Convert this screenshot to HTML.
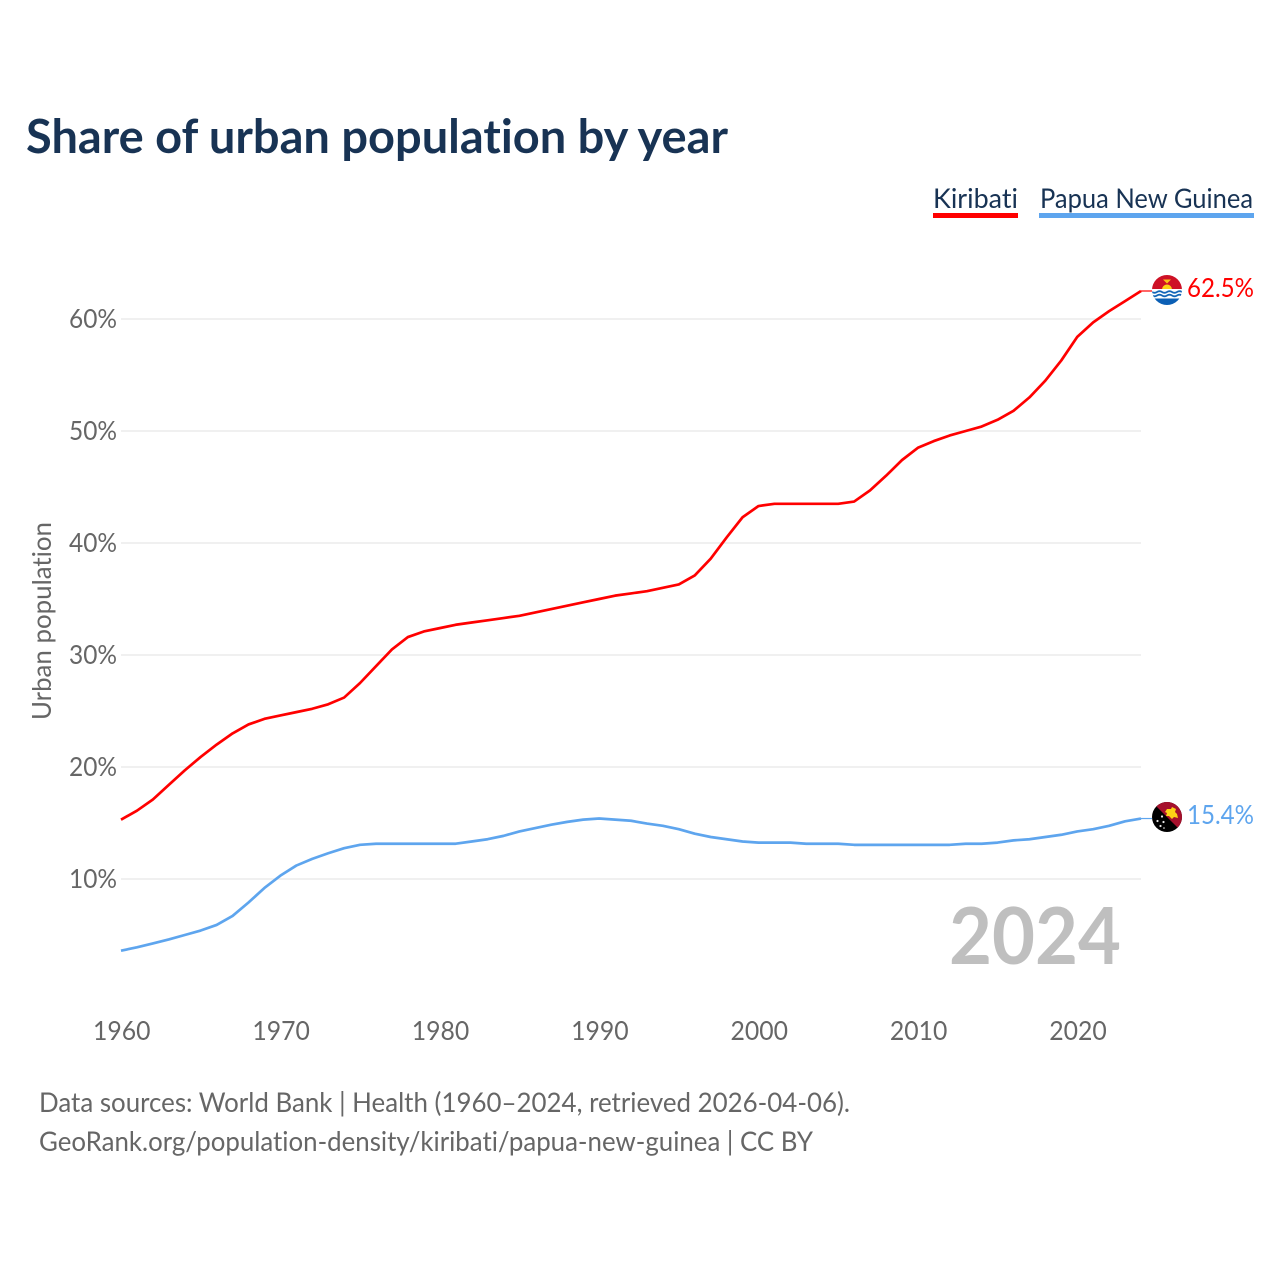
<!DOCTYPE html>
<html lang="en">
<head>
<meta charset="utf-8">
<title>Share of urban population by year</title>
<style>
html,body{margin:0;padding:0;background:#fff;width:1280px;height:1280px;overflow:hidden}
svg{display:block}
text{font-family:"Lato","Carlito","Liberation Sans",sans-serif;font-variant-ligatures:none;font-feature-settings:"liga" 0,"clig" 0}
</style>
</head>
<body>
<svg id="chart" xmlns="http://www.w3.org/2000/svg" width="1280" height="1280" viewBox="0 0 1280 1280">
  <rect width="1280" height="1280" fill="#fff"/>
  <text x="26" y="153" font-size="47" font-weight="700" fill="#183354" textLength="702" lengthAdjust="spacingAndGlyphs">Share of urban population by year</text>

  <g>
    <text x="933" y="208" font-size="27.500" fill="#183354" textLength="85" lengthAdjust="spacingAndGlyphs">Kiribati</text>
    <rect x="933" y="213" width="85" height="5" fill="#ff0000"/>
  </g>
  <g>
    <text x="1040" y="208" font-size="27.500" fill="#183354" textLength="213" lengthAdjust="spacingAndGlyphs">Papua New Guinea</text>
    <rect x="1039" y="213" width="215" height="5" fill="#5ea5ee"/>
  </g>

  <g id="grid"></g>
  <g id="yticks"></g>
  <g id="xticks"></g>
  <text transform="translate(51,621) rotate(-90)" text-anchor="middle" font-size="26.500" fill="#666" textLength="198" lengthAdjust="spacingAndGlyphs">Urban population</text>

  <text x="949" y="964" font-size="79" font-weight="700" fill="#bfbfbf" textLength="172" lengthAdjust="spacingAndGlyphs">2024</text>

  <g id="series"></g>

  <g id="flag-kiribati">
    <clipPath id="clipK"><circle cx="1167" cy="290" r="15"/></clipPath>
    <g clip-path="url(#clipK)">
      <rect x="1152" y="275" width="30" height="15" fill="#ce1126"/>
      <path d="M1162 289.500a5 5 0 0 1 10 0z" fill="#fcd116"/>
      <path d="M1163 279.500h8l-2 2-2 2-2-2z" fill="#fcc116"/>
      <rect x="1152" y="289" width="30" height="17" fill="#fff"/>
      <rect x="1152" y="298.500" width="30" height="7" fill="#0b5fb5"/>
      <path d="M1152 292q2.500 1.600 5 0t5 0 5 0 5 0 5 0 5 0M1152 295.500q2.500 1.600 5 0t5 0 5 0 5 0 5 0 5 0" fill="none" stroke="#1466b8" stroke-width="1.800"/>
    </g>
  </g>
  <g id="flag-png">
    <clipPath id="clipP"><circle cx="1167" cy="817" r="15"/></clipPath>
    <g clip-path="url(#clipP)">
      <rect x="1152" y="802" width="30" height="30" fill="#000"/>
      <path d="M1152 802h30v30z" fill="#a5102c"/>
      <path d="M1167 809l4 0 1-2 4 2-1 3 2 2 1 4-4-1-2 2-3-3-3 0 1-3-2-1z" fill="#fcd116"/>
      <g fill="#e8e8e8">
        <circle cx="1162" cy="816.500" r="1.100"/>
        <circle cx="1157.500" cy="821" r="1.100"/>
        <circle cx="1163.500" cy="822" r="1.100"/>
        <circle cx="1160.500" cy="826" r="1.100"/>
        <circle cx="1164" cy="828" r="0.800"/>
      </g>
    </g>
  </g>

  <text id="end-k" x="1187" y="297" font-size="26.500" fill="#ff0000" textLength="67" lengthAdjust="spacingAndGlyphs">62.5%</text>
  <text id="end-p" x="1187" y="824" font-size="26.500" fill="#5ea5ee" textLength="67" lengthAdjust="spacingAndGlyphs">15.4%</text>

  <text x="39" y="1112" font-size="27.500" fill="#666" textLength="811" lengthAdjust="spacingAndGlyphs">Data sources: World Bank | Health (1960–2024, retrieved 2026-04-06).</text>
  <text x="39" y="1151" font-size="27.500" fill="#666" textLength="774" lengthAdjust="spacingAndGlyphs">GeoRank.org/population-density/kiribati/papua-new-guinea | CC BY</text>
</svg>
<script>
const startYear = 1960;
const kiribati = [15.3,16.1,17.1,18.4,19.7,20.9,22.0,23.0,23.8,24.3,24.6,24.9,25.2,25.6,26.2,27.5,29.0,30.5,31.6,32.1,32.4,32.7,32.9,33.1,33.3,33.5,33.8,34.1,34.4,34.7,35.0,35.3,35.5,35.7,36.0,36.3,37.1,38.6,40.5,42.3,43.3,43.5,43.5,43.5,43.5,43.5,43.7,44.7,46.0,47.4,48.5,49.1,49.6,50.0,50.4,51.0,51.8,53.0,54.5,56.3,58.4,59.7,60.7,61.6,62.5];
const papuaNewGuinea = [3.6,3.9,4.25,4.6,5.0,5.4,5.9,6.7,7.9,9.2,10.3,11.2,11.8,12.3,12.75,13.05,13.15,13.15,13.15,13.15,13.15,13.15,13.35,13.55,13.85,14.25,14.55,14.85,15.1,15.3,15.4,15.3,15.2,14.95,14.75,14.45,14.05,13.75,13.55,13.35,13.25,13.25,13.25,13.15,13.15,13.15,13.05,13.05,13.05,13.05,13.05,13.05,13.05,13.15,13.15,13.25,13.45,13.55,13.75,13.95,14.25,14.45,14.75,15.15,15.4];
const xTickYears = [1960,1970,1980,1990,2000,2010,2020];
const yTickValues = [10,20,30,40,50,60];

const NS = 'http://www.w3.org/2000/svg';
const xScale = function (year) { return 121 + (year - 1960) * (1020 / 64); };
const yScale = function (value) { return 879 - (value - 10) * (560 / 50); };

const gridGroup = document.getElementById('grid');
const yGroup = document.getElementById('yticks');
const xGroup = document.getElementById('xticks');
const seriesGroup = document.getElementById('series');

yTickValues.forEach(function (v) {
  const line = document.createElementNS(NS, 'line');
  
  
  line.setAttribute('x1', 121);
  line.setAttribute('x2', 1141);
  line.setAttribute('y1', yScale(v));
  line.setAttribute('y2', yScale(v));
  line.setAttribute('stroke', '#ececec');
  line.setAttribute('stroke-width', '1.500');
  gridGroup.appendChild(line);

  const label = document.createElementNS(NS, 'text');
  
  
  label.setAttribute('x', 69);
  label.setAttribute('y', yScale(v) + 9);
  label.setAttribute('font-size', '26');
  label.setAttribute('fill', '#666');
  label.setAttribute('textLength', '48');
  label.setAttribute('lengthAdjust', 'spacingAndGlyphs');
  label.textContent = v + '%';
  yGroup.appendChild(label);
});

xTickYears.forEach(function (y) {
  const label = document.createElementNS(NS, 'text');
  
  
  label.setAttribute('x', xScale(y) - 28);
  label.setAttribute('y', 1040);
  label.setAttribute('font-size', '26');
  label.setAttribute('fill', '#666');
  label.setAttribute('textLength', '57.5');
  label.setAttribute('lengthAdjust', 'spacingAndGlyphs');
  label.textContent = y;
  xGroup.appendChild(label);
});

function drawSeries(values, color, name) {
  const pts = values.map(function (v, i) {
    return xScale(startYear + i).toFixed(2) + ',' + yScale(v).toFixed(2);
  });
  const line = document.createElementNS(NS, 'polyline');
  
  
  line.setAttribute('points', pts.join(' '));
  line.setAttribute('fill', 'none');
  line.setAttribute('stroke', color);
  line.setAttribute('stroke-width', '2.7');
  line.setAttribute('stroke-linejoin', 'round');
  seriesGroup.appendChild(line);

  const lastYear = startYear + values.length - 1;
  const lastValue = values[values.length - 1];
  const stub = document.createElementNS(NS, 'line');
  
  
  stub.setAttribute('x1', xScale(lastYear));
  stub.setAttribute('x2', xScale(lastYear) + 11);
  stub.setAttribute('y1', yScale(lastValue));
  stub.setAttribute('y2', yScale(lastValue));
  stub.setAttribute('stroke', color);
  stub.setAttribute('stroke-width', '1.2');
  seriesGroup.appendChild(stub);
}
drawSeries(kiribati, '#ff0000', 'line-kiribati');
drawSeries(papuaNewGuinea, '#5ea5ee', 'line-papua-new-guinea');
</script>
</body>
</html>
